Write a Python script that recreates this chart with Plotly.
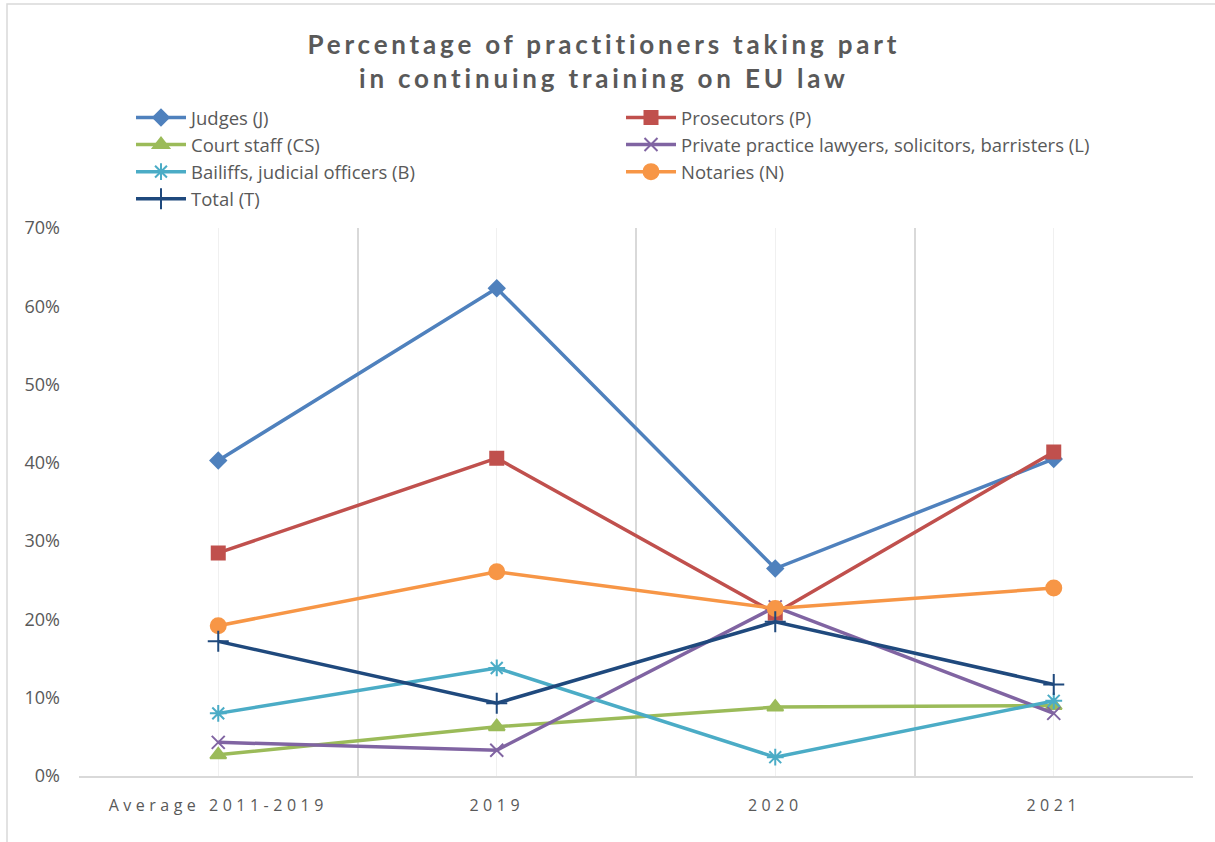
import plotly.graph_objects as go

categories = ["Average 2011-2019", "2019", "2020", "2021"]
judges = [40.3, 62.3, 26.5, 40.5]
prosecutors = [28.5, 40.6, 20.8, 41.4]
court_staff = [2.7, 6.3, 8.8, 9.0]
lawyers = [4.3, 3.3, 21.6, 8.0]
bailiffs = [8.0, 13.8, 2.4, 9.6]
notaries = [19.2, 26.1, 21.4, 24.0]
total = [17.2, 9.3, 19.7, 11.7]
y_ticks = [0, 10, 20, 30, 40, 50, 60, 70]
y_tick_labels = ["0%", "10%", "20%", "30%", "40%", "50%", "60%", "70%"]

series = [
    ("Judges (J)", judges, "#4f81bd", "diamond", 12),
    ("Prosecutors (P)", prosecutors, "#c0504d", "square", 13),
    ("Court staff (CS)", court_staff, "#9bbb59", "triangle-up", 14),
    ("Private practice lawyers, solicitors, barristers (L)", lawyers, "#8064a2", "x-thin-open", 13),
    ("Bailiffs, judicial officers (B)", bailiffs, "#4bacc6", "asterisk-open", 14),
    ("Notaries (N)", notaries, "#f79646", "circle", 15),
    ("Total (T)", total, "#1f497d", "cross-thin-open", 15),
]

x_idx = list(range(len(categories)))

fig = go.Figure()
for name, vals, color, sym, size in series:
    fig.add_trace(go.Scatter(
        x=x_idx, y=vals, name=name, mode="lines+markers",
        line=dict(color=color, width=3.5),
        marker=dict(symbol=sym, size=size, color=color,
                    line=dict(color=color, width=2)),
    ))

L, R, T, B = 79, 22, 228, 66
W, H = 1215, 842
pw, ph = W - L - R, H - T - B

fig.update_layout(
    width=W, height=H,
    margin=dict(l=L, r=R, t=T, b=B, autoexpand=False),
    paper_bgcolor="white", plot_bgcolor="white",
    font=dict(family="Open Sans, sans-serif", color="#595959"),
    title=dict(
        text='<span style="letter-spacing:3.8px">Percentage of practitioners taking part</span><br>'
             '<span style="letter-spacing:3.8px">in continuing training on EU law</span>',
        x=0.497, xanchor="center", xref="container",
        y=1 - 54 / H, yanchor="middle", yref="container",
        font=dict(family="Lato, sans-serif", size=26, color="#595959", weight="bold"),
    ),
    legend=dict(
        orientation="h", x=131 / W, xanchor="left", xref="container",
        y=1 - 99 / H, yanchor="top", yref="container",
        entrywidth=425, entrywidthmode="pixels",
        font=dict(family="Open Sans, sans-serif", size=18.5, color="#595959"),
        bgcolor="rgba(0,0,0,0)", tracegroupgap=0, itemwidth=50,
    ),
    showlegend=True,
)

fig.update_xaxes(
    range=[-0.5, len(categories) - 0.5],
    tickmode="array", tickvals=x_idx,
    ticktext=['<span style="letter-spacing:4.5px">%s</span>' % c for c in categories],
    tickfont=dict(family="Open Sans, sans-serif", size=16, color="#595959"),
    showgrid=True, gridcolor="#f0f0f0", gridwidth=1,
    minor=dict(tick0=-0.5, dtick=1, showgrid=True, gridcolor="#d9d9d9", gridwidth=1.5),
    showline=True, linecolor="#d9d9d9", linewidth=1.5,
    zeroline=False, ticks="", ticklabelstandoff=14,
)
fig.update_yaxes(
    range=[0, 70], tickmode="array", tickvals=y_ticks, ticktext=y_tick_labels,
    tickfont=dict(family="Open Sans, sans-serif", size=18, color="#595959"),
    showgrid=False, zeroline=False, showline=False, ticks="",
    ticklabelstandoff=18,
)

fig.add_shape(
    type="rect", xref="paper", yref="paper",
    x0=(7 - L) / pw, x1=(W + 5 - L) / pw,
    y0=-(B + 5) / ph, y1=(H - B - 4) / ph,
    line=dict(color="#d9d9d9", width=1.5), fillcolor="rgba(0,0,0,0)", layer="below",
)

fig.write_html("out.html", config={"displayModeBar": False},
               post_script="document.body.style.margin='0';")
